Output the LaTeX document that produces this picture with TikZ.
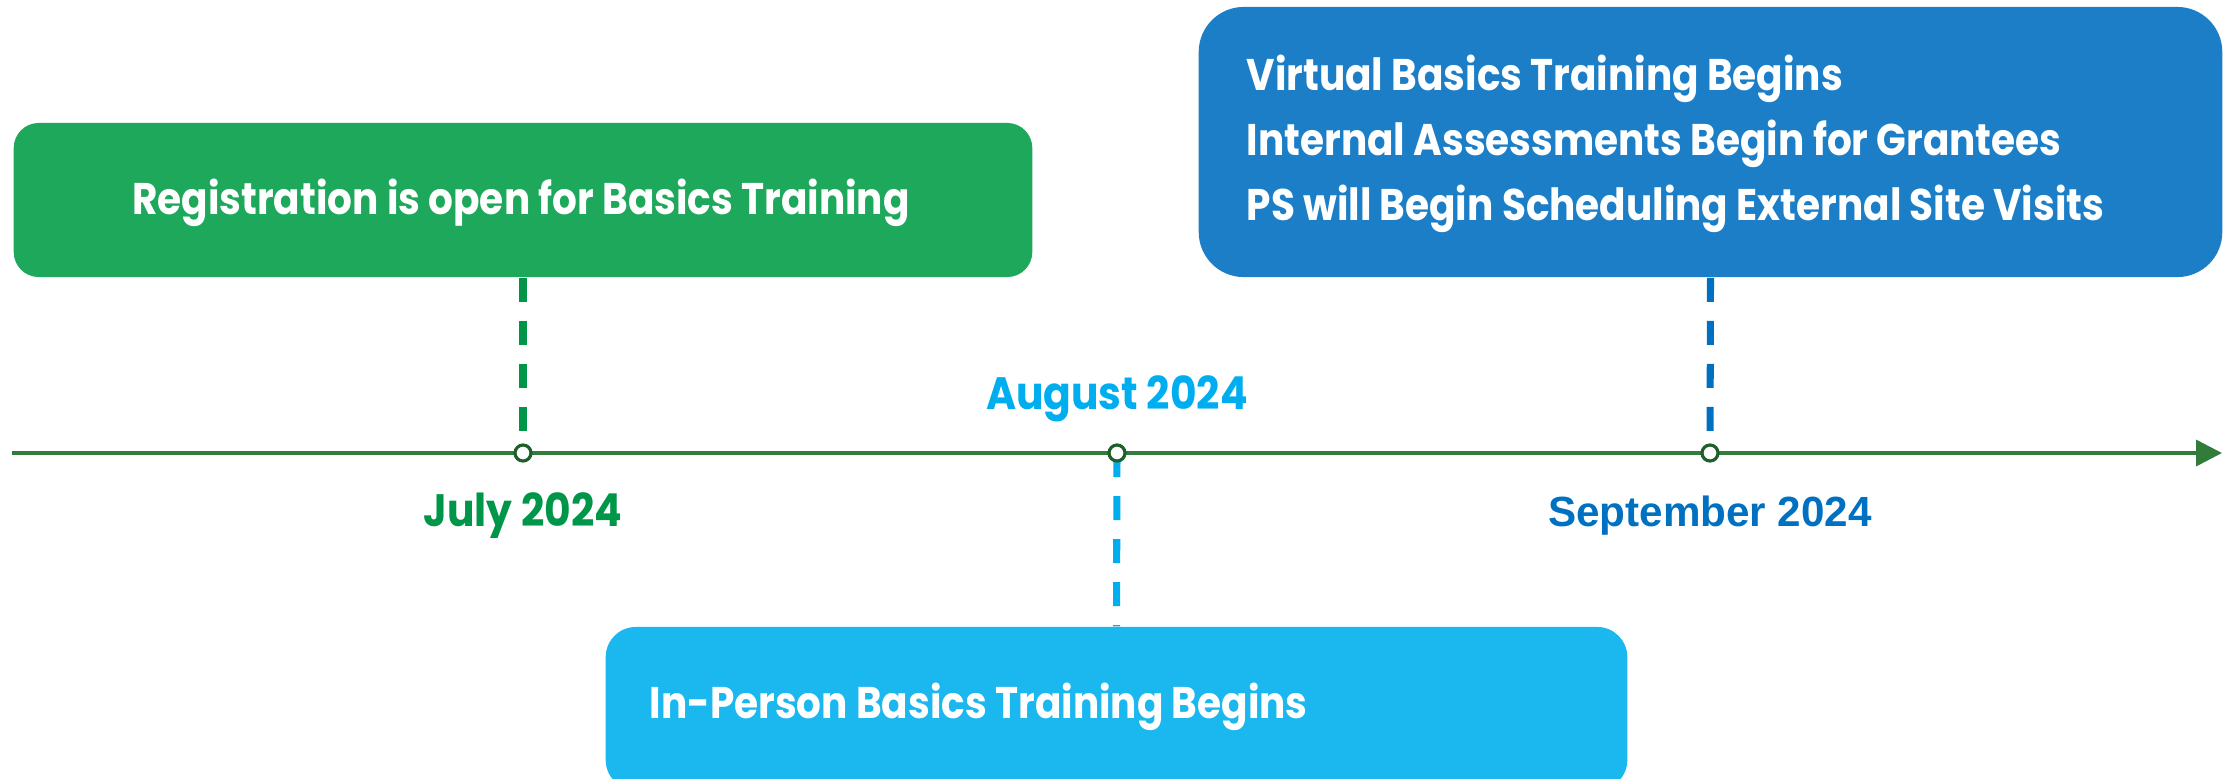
\documentclass[tikz,border=0pt]{standalone}
\usepackage{fontspec}
\usetikzlibrary{arrows.meta}
\setmainfont{Liberation Sans}
\newfontfamily\twfont[FakeStretch=0.9]{Poppins}
\newfontfamily\cardfont[FakeStretch=0.88]{Poppins}

\definecolor{greenbox}{HTML}{1DA85B}
\definecolor{bluebox}{HTML}{1C7EC6}
\definecolor{cyanbox}{HTML}{1BB7EF}
\definecolor{axisgreen}{HTML}{317B3B}
\definecolor{axisdark}{HTML}{1F5F2A}
\definecolor{julygreen}{HTML}{00964A}
\definecolor{augcyan}{HTML}{00AEEF}
\definecolor{sepblue}{HTML}{0070C0}

\begin{document}
\begin{tikzpicture}[x=0.01cm,y=-0.01cm,
  card/.style={draw=none, inner sep=0pt},
  boxtext/.style={text=white, inner sep=0pt,
    font=\cardfont\bfseries\fontsize{12.6}{14}\selectfont},
  datelabel/.style={inner sep=0pt, anchor=base,
    font=\twfont\bfseries\fontsize{12.9}{14}\selectfont},
  connector/.style={line width=2pt, dash pattern=on 0.24cm off 0.19cm},
  tickmark/.style={circle, draw=axisdark, fill=white, line width=0.9pt,
    minimum size=0.16cm, inner sep=0pt},
  axisline/.style={draw=axisgreen, line width=1pt,
    -{Triangle[length=0.26cm,width=0.26cm]}}
]
\path[use as bounding box] (0,0) rectangle (2236,778);
\clip (0,0) rectangle (2236,778);

% event cards
\node[card, fill=greenbox, rounded corners=0.25cm,
      minimum width=10.18cm, minimum height=1.54cm] (reg) at (523,200) {};
\node[card, fill=bluebox, rounded corners=0.45cm,
      minimum width=10.23cm, minimum height=2.70cm] (sep) at (1710.5,142) {};
\node[card, fill=cyanbox, rounded corners=0.3cm,
      minimum width=10.21cm, minimum height=1.63cm] (inp) at (1116.5,708.5) {};

% card texts
\node[boxtext, anchor=base] (regtxt) at (521,214) {Registration is open for Basics Training};
\node[boxtext, anchor=base west] (sep1) at (1246,90) {Virtual Basics Training Begins};
\node[boxtext, anchor=base west] (sep2) at (1246,155) {Internal Assessments Begin for Grantees};
\node[boxtext, anchor=base west] (sep3) at (1246,220) {PS will Begin Scheduling External Site Visits};
\node[boxtext, anchor=base west] (inptxt) at (649,718) {In-Person Basics Training Begins};

% time axis
\coordinate (axstart) at (12,453);
\coordinate (axend) at (2222,453);
\coordinate (pjul) at (523,453);
\coordinate (paug) at (1117,453);
\coordinate (psep) at (1710,453);

% dashed connectors
\draw[connector, julygreen] (reg.south) -- (pjul);
\draw[connector, sepblue] (sep.south) -- (psep);
\draw[connector, augcyan] (paug) -- (inp.north);

\draw[axisline] (axstart) -- (axend);

\node[tickmark] (tjul) at (pjul) {};
\node[tickmark] (taug) at (paug) {};
\node[tickmark] (tsep) at (psep) {};

% month labels
\node[datelabel, text=julygreen] (ljul) at (523,526) {July 2024};
\node[datelabel, text=augcyan] (laug) at (1117,409) {August 2024};
\node[inner sep=0pt, anchor=base, text=sepblue,
      font=\bfseries\fontsize{12}{14}\selectfont] (lsep) at (1710,526) {September 2024};
\end{tikzpicture}
\end{document}
